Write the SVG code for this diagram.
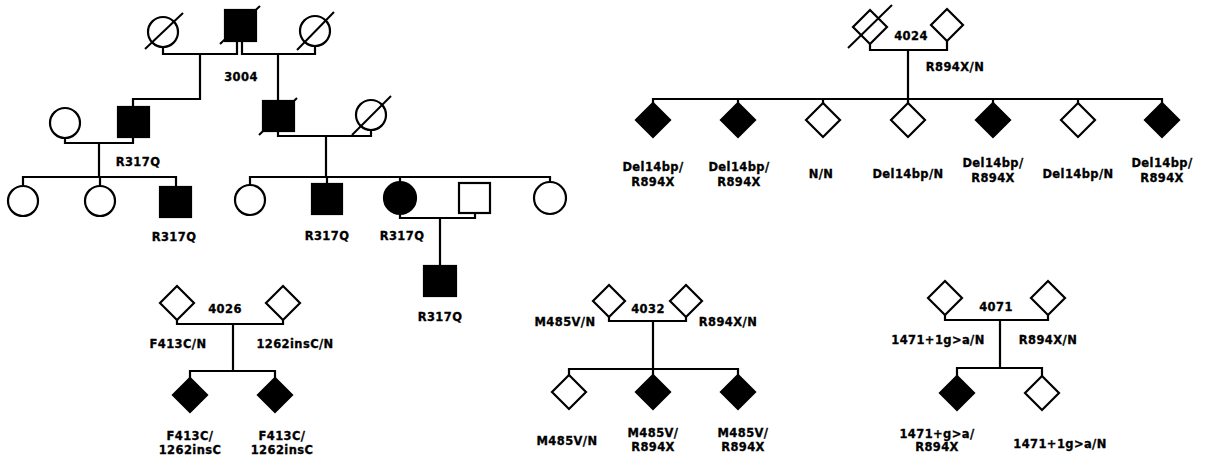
<svg xmlns="http://www.w3.org/2000/svg" width="1212" height="461" viewBox="0 0 1212 461">
<style>
.o{fill:#fff;stroke:#000;stroke-width:2.2}
.f{fill:#000;stroke:#000;stroke-width:2.2}
.l{fill:none;stroke:#000;stroke-width:2.2}
.d{stroke:#000;stroke-width:2}
text{font-family:"DejaVu Sans","Liberation Sans",sans-serif;font-weight:bold;font-size:11.5px;letter-spacing:0.4px;text-anchor:middle;fill:#000;stroke:#000;stroke-width:0.3}
</style>
<rect width="1212" height="461" fill="#fff"/>
<g id="connectors">
<path class="l" d="M163,47 V54 H237 V41"/>
<path class="l" d="M242,41 V54 H315 V46"/>
<path class="l" d="M200,54 V99 H133 V107"/>
<path class="l" d="M278,54 V101"/>
<path class="l" d="M65,138 V143 H133 V137"/>
<path class="l" d="M278,131 V136 H371 V130"/>
<path class="l" d="M99,143 V177"/>
<path class="l" d="M23,186 V177 H176 V187 M100,177 V186"/>
<path class="l" d="M326,136 V177"/>
<path class="l" d="M250,185 V177 H550 V182 M327,177 V184 M400,177 V182"/>
<path class="l" d="M400,214 V218 H475 V213 M440,218 V266"/>
<path class="l" d="M870,44 V50 H947 V41 M908,50 V99"/>
<path class="l" d="M653,103 V99 H1162 V103 M738,99 V103 M823,99 V103 M908,99 V103 M993,99 V103 M1078,99 V103"/>
<path class="l" d="M177,320 V324 H283 V320 M233,324 V371"/>
<path class="l" d="M190,378 V371 H275 V378"/>
<path class="l" d="M609,317 V321 H686 V317 M653,321 V369"/>
<path class="l" d="M569,375 V369 H738 V375 M653,369 V375"/>
<path class="l" d="M945,315 V320 H1048 V315 M1000,320 V368"/>
<path class="l" d="M957,376 V368 H1042 V376"/>
</g>
<g id="p3004">
<g id="I1"><circle class="o" cx="163" cy="32" r="15"/><line class="d" x1="145" y1="49" x2="183" y2="13"/></g>
<g id="I2"><rect class="f" x="225" y="10" width="31" height="31"/><line class="d" x1="220" y1="44" x2="260" y2="6"/></g>
<g id="I3"><circle class="o" cx="315" cy="31" r="15"/><line class="d" x1="297" y1="50" x2="334" y2="12"/></g>
<g id="II1"><circle class="o" cx="65" cy="123" r="15"/></g>
<g id="II2"><rect class="f" x="118" y="107" width="31" height="30"/></g>
<g id="II3"><rect class="f" x="263" y="101" width="31" height="30"/><line class="d" x1="259" y1="135" x2="297" y2="98"/></g>
<g id="II4"><circle class="o" cx="371" cy="115" r="15"/><line class="d" x1="352" y1="135" x2="391" y2="96"/></g>
<g id="III1"><circle class="o" cx="23" cy="201" r="15"/></g>
<g id="III2"><circle class="o" cx="100" cy="201" r="15"/></g>
<g id="III3"><rect class="f" x="160" y="187" width="31" height="30"/></g>
<g id="III4"><circle class="o" cx="250" cy="200" r="15"/></g>
<g id="III5"><rect class="f" x="312" y="184" width="30" height="30"/></g>
<g id="III6"><circle class="f" cx="400" cy="198" r="16"/></g>
<g id="III7"><rect class="o" x="459" y="183" width="31" height="30"/></g>
<g id="III8"><circle class="o" cx="550" cy="198" r="16"/></g>
<g id="IV1"><rect class="f" x="424" y="266" width="32" height="30"/></g>
<text x="241" y="81">3004</text>
<text x="138" y="166">R317Q</text>
<text x="174" y="241">R317Q</text>
<text x="327" y="240">R317Q</text>
<text x="402" y="240">R317Q</text>
<text x="440" y="321">R317Q</text>
</g>
<g id="p4024">
<g id="F4024a"><path class="o" d="M870,10 L887,27 L870,44 L853,27 Z"/><line class="d" x1="848" y1="48" x2="892" y2="5"/></g>
<g id="F4024b"><path class="o" d="M947,9 L963,25 L947,41 L931,25 Z"/></g>
<g id="c1"><path class="f" d="M653,103 L670,120 L653,137 L636,120 Z"/></g>
<g id="c2"><path class="f" d="M738,103 L755,120 L738,137 L721,120 Z"/></g>
<g id="c3"><path class="o" d="M823,103 L840,120 L823,137 L806,120 Z"/></g>
<g id="c4"><path class="o" d="M908,103 L925,120 L908,137 L891,120 Z"/></g>
<g id="c5"><path class="f" d="M993,103 L1010,120 L993,137 L976,120 Z"/></g>
<g id="c6"><path class="o" d="M1078,103 L1095,120 L1078,137 L1061,120 Z"/></g>
<g id="c7"><path class="f" d="M1162,103 L1179,120 L1162,137 L1145,120 Z"/></g>
<text x="911" y="40">4024</text>
<text x="955" y="71">R894X/N</text>
<text x="653" y="171">Del14bp/</text><text x="653" y="186">R894X</text>
<text x="739" y="171">Del14bp/</text><text x="739" y="186">R894X</text>
<text x="821" y="178">N/N</text>
<text x="908" y="178">Del14bp/N</text>
<text x="993" y="167">Del14bp/</text><text x="993" y="182">R894X</text>
<text x="1078" y="178">Del14bp/N</text>
<text x="1162" y="167">Del14bp/</text><text x="1162" y="182">R894X</text>
</g>
<g id="p4026">
<g id="F4026a"><path class="o" d="M177,286 L194,303 L177,320 L160,303 Z"/></g>
<g id="F4026b"><path class="o" d="M283,286 L300,303 L283,320 L266,303 Z"/></g>
<g id="d1"><path class="f" d="M190,378 L207,395 L190,412 L173,395 Z"/></g>
<g id="d2"><path class="f" d="M275,378 L292,395 L275,412 L258,395 Z"/></g>
<text x="225" y="313">4026</text>
<text x="178" y="348">F413C/N</text>
<text x="295" y="348">1262insC/N</text>
<text x="190" y="440">F413C/</text><text x="190" y="454">1262insC</text>
<text x="282" y="440">F413C/</text><text x="282" y="454">1262insC</text>
</g>
<g id="p4032">
<g id="F4032a"><path class="o" d="M609,285 L625,301 L609,317 L593,301 Z"/></g>
<g id="F4032b"><path class="o" d="M686,285 L702,301 L686,317 L670,301 Z"/></g>
<g id="e1"><path class="o" d="M569,375 L586,392 L569,409 L552,392 Z"/></g>
<g id="e2"><path class="f" d="M653,375 L670,392 L653,409 L636,392 Z"/></g>
<g id="e3"><path class="f" d="M738,375 L755,392 L738,409 L721,392 Z"/></g>
<text x="648" y="313">4032</text>
<text x="565" y="326">M485V/N</text>
<text x="728" y="326">R894X/N</text>
<text x="567" y="445">M485V/N</text>
<text x="653" y="437">M485V/</text><text x="653" y="451">R894X</text>
<text x="743" y="437">M485V/</text><text x="743" y="451">R894X</text>
</g>
<g id="p4071">
<g id="F4071a"><path class="o" d="M945,281 L962,298 L945,315 L928,298 Z"/></g>
<g id="F4071b"><path class="o" d="M1048,281 L1065,298 L1048,315 L1031,298 Z"/></g>
<g id="g1"><path class="f" d="M957,376 L974,393 L957,410 L940,393 Z"/></g>
<g id="g2"><path class="o" d="M1042,376 L1059,393 L1042,410 L1025,393 Z"/></g>
<text x="996" y="311">4071</text>
<text x="938" y="344">1471+1g&gt;a/N</text>
<text x="1048" y="344">R894X/N</text>
<text x="937" y="438">1471+g&gt;a/</text><text x="937" y="451">R894X</text>
<text x="1060" y="448">1471+1g&gt;a/N</text>
</g>
</svg>
